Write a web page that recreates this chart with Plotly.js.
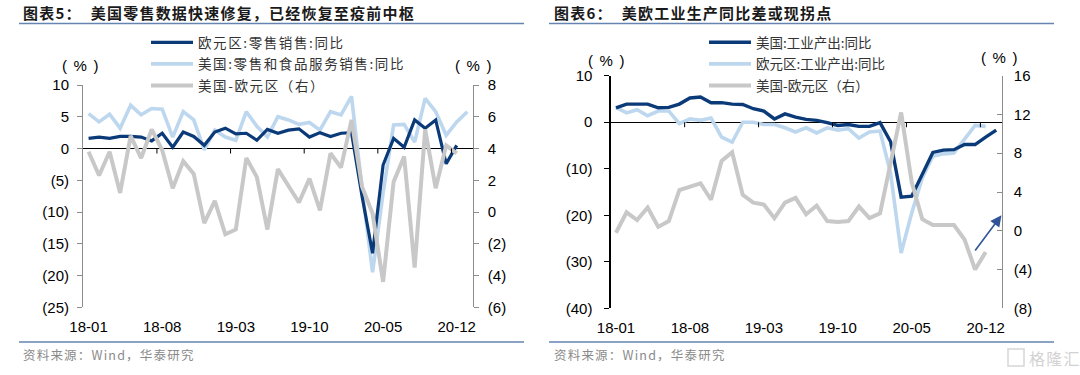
<!DOCTYPE html>
<html><head><meta charset="utf-8">
<script src="https://cdn.plot.ly/plotly-3.0.1.min.js"></script>
<style>
html,body{margin:0;padding:0;background:#fff;}
#chart{width:1080px;height:375px;}
.legendtext{letter-spacing:1.6px;}
.annotation-text{letter-spacing:1.2px;}
</style></head><body><div id="chart"></div>
<script>
// ---- categories ----
const months = ['18-01','18-02','18-03','18-04','18-05','18-06','18-07','18-08','18-09','18-10','18-11','18-12',
  '19-01','19-02','19-03','19-04','19-05','19-06','19-07','19-08','19-09','19-10','19-11','19-12',
  '20-01','20-02','20-03','20-04','20-05','20-06','20-07','20-08','20-09','20-10','20-11','20-12','21-01'];
const tickLabels = ['18-01','18-08','19-03','19-10','20-05','20-12'];

// ---- chart 1: retail sales yoy ----
const euRetail = [1.6,1.8,1.6,1.9,1.9,1.8,1.2,2.4,0.2,2.6,1.9,0.5,2.6,3.2,2.3,2.4,1.3,3.0,2.4,2.9,3.1,1.8,2.5,1.9,2.4,2.5,-7.5,-16.5,-2.6,1.6,0.2,4.5,3.2,4.5,-2.4,0.5];
const usRetail = [5.5,4.2,5.4,3.2,6.8,5.3,6.3,6.2,1.8,5.8,4.5,-0.2,2.9,1.8,1.3,5.8,3.5,1.8,5.0,4.5,3.8,4.1,2.9,5.8,5.3,8.2,-6.3,-19.5,-7.0,3.7,3.8,1.0,7.9,5.8,2.1,4.2,5.8];
const retailDiff = [3.8,2.3,3.8,1.2,4.8,3.4,5.2,3.9,1.5,3.2,2.4,-0.7,0.7,-1.4,-1.1,3.4,2.2,-1.1,2.7,1.6,0.6,2.1,0.1,3.7,2.8,5.8,1.6,-0.1,-4.4,1.9,3.5,-3.5,5.2,1.5,4.2,3.7];
const c1LeftTicks = [10,5,0,-5,-10,-15,-20,-25];
const c1LeftText = ['10','5','0','(5)','(10)','(15)','(20)','(25)'];
const c1RightTicks = [8,6,4,2,0,-2,-4,-6];
const c1RightText = ['8','6','4','2','0','(2)','(4)','(6)'];

// ---- chart 2: industrial production yoy ----
const usIP = [3.1,3.9,3.9,3.9,3.1,3.2,3.9,5.2,5.4,4.2,4.2,3.9,3.8,2.9,2.4,0.7,1.8,1.1,0.6,0.4,-0.1,-0.7,-0.5,-0.9,-0.9,-0.1,-4.2,-16.1,-15.9,-11.2,-6.5,-6.0,-5.9,-4.8,-4.8,-3.2,-1.7];
const euIP = [3.2,2.0,2.7,1.4,2.4,2.4,-0.3,0.7,0.4,0.9,-3.2,-4.3,0.0,0.0,-0.5,-0.5,-1.2,-2.1,-1.2,-2.3,-1.2,-1.7,-1.4,-3.4,-2.1,-1.9,-11.0,-28.1,-19.5,-12.0,-7.3,-6.8,-6.6,-3.7,-0.7,-0.9];
const ipDiff = [-0.2,1.9,1.1,2.4,0.4,1.0,4.2,4.6,4.9,3.2,7.2,8.1,3.7,2.9,2.7,1.3,2.9,3.4,1.7,2.6,1.0,0.9,1.0,2.5,1.3,1.8,6.8,12.2,5.0,1.2,0.6,0.6,0.6,-0.9,-4.0,-2.2];
const c2LeftTicks = [10,0,-10,-20,-30,-40];
const c2LeftText = ['10','0','(10)','(20)','(30)','(40)'];
const c2RightTicks = [16,12,8,4,0,-4,-8];
const c2RightText = ['16','12','8','4','0','(4)','(8)'];

// ---- styling ----
const DARK = '#0b3a78', LIGHT = '#bdd7ee', GRAY = '#c8c8c8';
const NUMFONT = {family:'Liberation Sans, Arial, sans-serif', size:15, color:'#000'};
const CJK = 'Noto Sans CJK SC, Liberation Sans, sans-serif';
const W = 1080, H = 375;
const px = v => v / W, py = v => 1 - v / H;

function line(name, x, y, xa, ya, color, width, leg, rank) {
  return {type:'scatter', mode:'lines', name, x: x.slice(0, y.length), y, xaxis:xa, yaxis:ya,
    line:{color, width}, legend:leg, legendrank:rank, legendgroup:leg+rank, hoverinfo:'skip'};
}

const data = [
  line('美国:零售和食品服务销售:同比', months, usRetail, 'x', 'y', LIGHT, 3.6, 'legend', 2),
  line('欧元区:零售销售:同比', months, euRetail, 'x', 'y', DARK, 3.2, 'legend', 1),
  line('美国-欧元区（右）', months, retailDiff, 'x', 'y2', GRAY, 4, 'legend', 3),
  line('欧元区:工业产出:同比', months, euIP, 'x2', 'y3', LIGHT, 3.6, 'legend2', 2),
  line('美国:工业产出:同比', months, usIP, 'x2', 'y3', DARK, 3.4, 'legend2', 1),
  line('美国-欧元区（右）', months, ipDiff, 'x2', 'y4', GRAY, 4, 'legend2', 3)
];

function xAxis(domain, anchor) {
  return {domain, anchor, type:'category', categoryorder:'array', categoryarray:months,
    range:[-0.5, months.length - 0.5], tickmode:'array', tickvals:tickLabels, ticktext:tickLabels,
    ticks:'', showline:false, showgrid:false, zeroline:false, tickfont:NUMFONT, ticklabelstandoff:9, fixedrange:true};
}
function yAxis(o) {
  return Object.assign({ticks:'outside', ticklen:5, tickwidth:1, showline:true, linewidth:1.3,
    showgrid:false, zeroline:false, tickfont:NUMFONT, tickmode:'array', fixedrange:true}, o);
}

// boundary tick marks on the zero line
const boundaries = tickLabels.slice(1).map(l => months.indexOf(l) - 0.5);
const shapes = [];
[['x','y'],['x2','y3']].forEach(([xa, ya]) => boundaries.forEach(b => shapes.push({
  type:'line', xref:xa, yref:ya, x0:b, x1:b, ysizemode:'pixel', yanchor:0, y0:0, y1:-5,
  line:{color:'#000', width:1}})));
// frame rules
const RULE = '#6585b0';
[[19,524],[549,1054]].forEach(([a,b]) => {
  shapes.push({type:'line', xref:'paper', yref:'paper', x0:px(a), x1:px(b), y0:py(23.5), y1:py(23.5), line:{color:RULE, width:1.6}});
  shapes.push({type:'line', xref:'paper', yref:'paper', x0:px(a), x1:px(b), y0:py(342), y1:py(342), line:{color:RULE, width:1.4}});
});
shapes.push({type:'rect', xref:'paper', yref:'paper', x0:px(1008), x1:px(1024), y0:py(366), y1:py(349), line:{color:'#d6d6d6', width:1.5}});

function note(text, x, y, font, xanchor) {
  return {text, xref:'paper', yref:'paper', x:px(x), y:py(y), xanchor:xanchor||'left', yanchor:'middle', showarrow:false, font};
}
const annotations = [
  note('图表5：  美国零售数据快速修复，已经恢复至疫前中枢', 21, 13, {family:CJK, size:15, color:'#1a1a1a', weight:700}),
  note('图表6：  美欧工业生产同比差或现拐点', 552, 13, {family:CJK, size:15, color:'#1a1a1a', weight:700}),
  note('资料来源：Wind，华泰研究', 21, 354, {family:CJK, size:12.5, color:'#8a8a8a'}),
  note('资料来源：Wind，华泰研究', 552, 354, {family:CJK, size:12.5, color:'#8a8a8a'}),
  note('( % )', 81, 65, {family:'Liberation Sans', size:15, color:'#000'}, 'center'),
  note('( % )', 474, 65, {family:'Liberation Sans', size:15, color:'#000'}, 'center'),
  note('( % )', 607, 60, {family:'Liberation Sans', size:15, color:'#000'}, 'center'),
  note('( % )', 1000, 57, {family:'Liberation Sans', size:15, color:'#000'}, 'center'),
  note('格隆汇', 1027, 358, {family:CJK, size:16, color:'#d2d2d2'}),
  {text:'', xref:'x2', yref:'y4', x:36.5, y:1.6, axref:'x2', ayref:'y4', ax:33.9, ay:-2.2,
   showarrow:true, arrowhead:2, arrowsize:1.4, arrowwidth:1.6, arrowcolor:'#2f5597', standoff:0}
];

const legendBase = {xanchor:'left', yanchor:'top', bgcolor:'rgba(0,0,0,0)', borderwidth:0,
  font:{family:CJK, size:13.5, color:'#333'}, itemwidth:42, traceorder:'grouped', tracegroupgap:1, orientation:'v'};

const layout = {
  width:W, height:H, margin:{l:0, r:0, t:0, b:0}, paper_bgcolor:'#fff', plot_bgcolor:'rgba(0,0,0,0)',
  font:{family:'Liberation Sans, Noto Sans CJK SC, sans-serif'}, showlegend:true,
  xaxis: xAxis([px(83.3), px(472.5)], 'y'),
  yaxis: yAxis({domain:[py(307.3), py(85)], anchor:'x', range:[-25,10], tickvals:c1LeftTicks, ticktext:c1LeftText,
    linecolor:'#8c8c8c', tickcolor:'#8c8c8c', zeroline:true, zerolinecolor:'#000', zerolinewidth:1, ticklabelstandoff:5}),
  yaxis2: yAxis({overlaying:'y', side:'right', anchor:'x', range:[-6,8], tickvals:c1RightTicks, ticktext:c1RightText,
    linecolor:'#8c8c8c', tickcolor:'#8c8c8c', ticklabelstandoff:6}),
  xaxis2: xAxis([px(610.7), px(1001.5)], 'y3'),
  yaxis3: yAxis({domain:[py(308.3), py(75.7)], anchor:'x2', range:[-40,10], tickvals:c2LeftTicks, ticktext:c2LeftText,
    linecolor:'#000', tickcolor:'#000', zeroline:true, zerolinecolor:'#000', zerolinewidth:1, ticklabelstandoff:9}),
  yaxis4: yAxis({overlaying:'y3', side:'right', anchor:'x2', range:[-8,16], tickvals:c2RightTicks, ticktext:c2RightText,
    linecolor:'#8c8c8c', tickcolor:'#8c8c8c', ticks:'inside', ticklabelstandoff:8}),
  legend: Object.assign({}, legendBase, {x:px(146), y:py(27)}),
  legend2: Object.assign({}, legendBase, {x:px(704), y:py(27)}),
  shapes, annotations
};

Plotly.newPlot('chart', data, layout, {staticPlot:true, displayModeBar:false});
</script></body></html>
